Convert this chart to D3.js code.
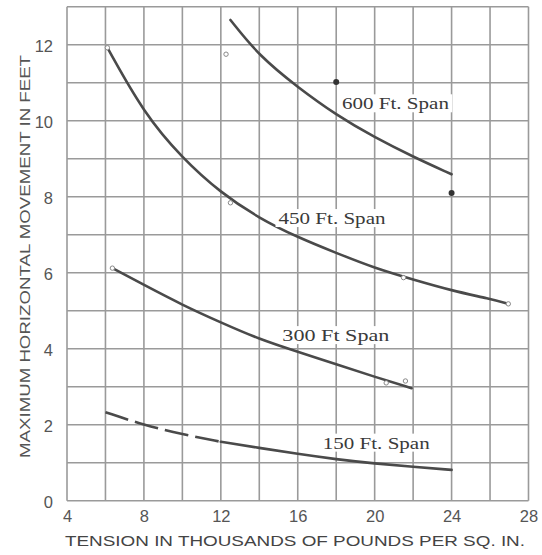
<!DOCTYPE html>
<html><head><meta charset="utf-8">
<script src="https://cdn.jsdelivr.net/npm/d3@7"></script>
<style>html,body{margin:0;padding:0;background:#fff;}svg{display:block;}</style>
</head><body>
<script>
// ---- data ----
const xTicks = [4, 8, 12, 16, 20, 24, 28];
const yTicks = [0, 2, 4, 6, 8, 10, 12];
const span600X = [12.5, 14, 16, 18, 20, 22, 24];
const span600Y = [12.65, 11.7, 10.88, 10.15, 9.56, 9.05, 8.59];
const span450X = [6.1, 8, 10, 12, 14, 16, 18, 20, 22, 24, 26, 26.95];
const span450Y = [11.92, 10.19, 9.01, 8.1, 7.43, 6.93, 6.52, 6.12, 5.82, 5.53, 5.31, 5.18];
const span300X = [6.36, 8, 10, 12, 14, 16, 18, 20, 21.92];
const span300Y = [6.12, 5.68, 5.15, 4.69, 4.25, 3.92, 3.59, 3.26, 2.96];
const span150DashX = [6, 8, 10, 12];
const span150DashY = [2.33, 1.99, 1.75, 1.55];
const span150X = [12, 14, 16, 18, 20, 22, 24];
const span150Y = [1.55, 1.39, 1.23, 1.09, 0.98, 0.89, 0.81];
const openPtsX = [12.27, 6.1, 12.5, 21.5, 26.95, 6.36, 20.6, 21.6];
const openPtsY = [11.75, 11.92, 7.84, 5.87, 5.18, 6.12, 3.1, 3.15];
const dotPtsX = [18, 24];
const dotPtsY = [11.02, 8.1];
const labels = ["600 Ft. Span", "450 Ft. Span", "300 Ft Span", "150 Ft. Span"];
const labelX = [18.3, 15.0, 15.2, 17.3];
const labelY = [10.3, 7.28, 4.2, 1.37];
const xTitle = "TENSION IN THOUSANDS OF POUNDS PER SQ. IN.";
const yTitle = "MAXIMUM HORIZONTAL MOVEMENT IN FEET";

// ---- layout ----
const W = 542, H = 555;
const L = 67, R = 528.5, T = 6.7, B = 500.7;
const svg = d3.select("body").append("svg").attr("width", W).attr("height", H);
const x = d3.scaleLinear().domain([4, 28]).range([L, R]);
const y = d3.scaleLinear().domain([0, 13]).range([B, T]);

const gridColor = "#9a9a9a";
const g = svg.append("g");
g.selectAll("line.v").data(d3.range(4, 28.01, 2)).join("line")
  .attr("x1", d => x(d)).attr("x2", d => x(d)).attr("y1", y(0)).attr("y2", y(13))
  .attr("stroke", gridColor).attr("stroke-width", 1.6);
g.selectAll("line.h").data(d3.range(0, 13.01, 1)).join("line")
  .attr("x1", x(4)).attr("x2", x(28)).attr("y1", d => y(d)).attr("y2", d => y(d))
  .attr("stroke", gridColor).attr("stroke-width", 1.6);

// axes (text only)
const xAxis = d3.axisBottom(x).tickValues(xTicks).tickSize(0).tickPadding(10);
const xg = svg.append("g").attr("transform", `translate(0,${B})`).call(xAxis);
xg.select(".domain").remove();
xg.selectAll("text").attr("font-family", "Liberation Sans, Arial, sans-serif")
  .attr("font-size", 16.5).attr("fill", "#555");
const yAxis = d3.axisLeft(y).tickValues(yTicks).tickSize(0).tickPadding(14);
const yg = svg.append("g").attr("transform", `translate(${L},0)`).call(yAxis);
yg.select(".domain").remove();
yg.selectAll("text").attr("font-family", "Liberation Sans, Arial, sans-serif")
  .attr("font-size", 16.5).attr("fill", "#555").attr("dy", "0.4em");

// titles
svg.append("text").attr("x", 65).attr("y", 545.5).attr("textLength", 460)
  .attr("lengthAdjust", "spacingAndGlyphs")
  .attr("font-family", "Liberation Sans, Arial, sans-serif").attr("font-size", 15.5)
  .attr("fill", "#444").text(xTitle);
svg.append("text").attr("transform", "translate(30,458) rotate(-90)")
  .attr("textLength", 403).attr("lengthAdjust", "spacingAndGlyphs")
  .attr("font-family", "Liberation Sans, Arial, sans-serif").attr("font-size", 15.5)
  .attr("fill", "#555").text(yTitle);

// curves
const line = d3.line().x(d => x(d[0])).y(d => y(d[1])).curve(d3.curveBasis);
const zip = (a, b) => a.map((v, i) => [v, b[i]]);
const curveColor = "#4a4a4a";
[[span600X, span600Y], [span450X, span450Y], [span300X, span300Y], [span150X, span150Y]].forEach(([xs, ys]) => {
  svg.append("path").attr("d", line(zip(xs, ys))).attr("fill", "none")
    .attr("stroke", curveColor).attr("stroke-width", 2.6).attr("stroke-linecap", "round");
});
svg.append("path").attr("d", line(zip(span150DashX, span150DashY))).attr("fill", "none")
  .attr("stroke", curveColor).attr("stroke-width", 2.6).attr("stroke-dasharray", "24,7");

// markers
svg.selectAll("circle.open").data(zip(openPtsX, openPtsY)).join("circle")
  .attr("cx", d => x(d[0])).attr("cy", d => y(d[1])).attr("r", 2.2)
  .attr("fill", "#fff").attr("stroke", "#888").attr("stroke-width", 1);
svg.selectAll("circle.dot").data(zip(dotPtsX, dotPtsY)).join("circle")
  .attr("cx", d => x(d[0])).attr("cy", d => y(d[1])).attr("r", 3)
  .attr("fill", "#333");

// labels
labels.forEach((t, i) => {
  const tx = x(labelX[i]), ty = y(labelY[i]);
  const txt = svg.append("text").attr("x", tx).attr("y", ty)
    .attr("font-family", "Liberation Serif, Times New Roman, serif").attr("font-size", 17.5)
    .attr("fill", "#3a3a3a").attr("textLength", 107).attr("lengthAdjust", "spacingAndGlyphs").text(t);
  const bb = txt.node().getBBox();
  svg.insert("rect", () => txt.node()).attr("x", bb.x - 3).attr("y", bb.y + 1)
    .attr("width", bb.width + 6).attr("height", bb.height - 2).attr("fill", "#fff");
});
</script>
</body></html>
